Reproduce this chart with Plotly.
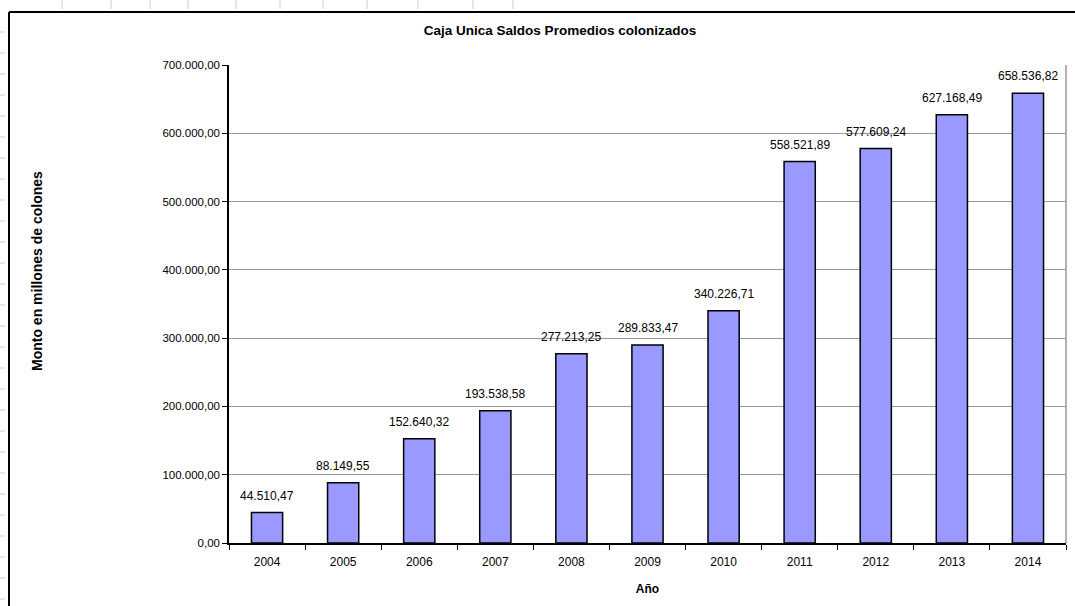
import plotly.graph_objects as go

years = ["2004", "2005", "2006", "2007", "2008", "2009", "2010", "2011", "2012", "2013", "2014"]
saldos = [44510.47, 88149.55, 152640.32, 193538.58, 277213.25, 289833.47, 340226.71,
          558521.89, 577609.24, 627168.49, 658536.82]
y_ticks = [0, 100000, 200000, 300000, 400000, 500000, 600000, 700000]

W, H = 1075, 606
L, R, T, B = 229, 9, 65, 63
pw, ph = W - L - R, H - T - B

def px(x):
    return (x - L) / pw

def py(y):
    return (H - B - y) / ph

def es_fmt(v):
    return f"{v:,.2f}".replace(",", "X").replace(".", ",").replace("X", ".")

FONT = "Liberation Sans, Arial"

fig = go.Figure(go.Bar(
    x=years, y=saldos,
    marker=dict(color="#9999FF", line=dict(color="black", width=1.5)),
    width=0.41,
    hoverinfo="skip",
))

shapes = []
# outer chart frame (top and left edges)
shapes.append(dict(type="line", xref="paper", yref="paper", x0=px(9), x1=px(1080), y0=py(12), y1=py(12),
                   line=dict(color="black", width=2)))
shapes.append(dict(type="line", xref="paper", yref="paper", x0=px(9), x1=px(9), y0=py(12), y1=py(610),
                   line=dict(color="black", width=2)))
# faint spreadsheet marks
for xx in [62, 111, 150, 188, 236, 280, 323, 367, 418, 473, 513]:
    shapes.append(dict(type="line", xref="paper", yref="paper", x0=px(xx), x1=px(xx), y0=py(0), y1=py(9),
                       line=dict(color="#c8d0dc", width=1)))
yy = 32
while yy < 606:
    shapes.append(dict(type="line", xref="paper", yref="paper", x0=px(0), x1=px(5), y0=py(yy), y1=py(yy),
                       line=dict(color="#c8d0dc", width=1)))
    yy += 21
# right border of plot area in gray
shapes.append(dict(type="line", xref="paper", yref="paper", x0=1, x1=1, y0=0, y1=1,
                   line=dict(color="#999999", width=1.5)))

annotations = [dict(text="<b>Monto en millones de colones</b>", xref="paper", yref="paper",
                    x=px(37), y=py(271), textangle=-90, showarrow=False,
                    font=dict(family=FONT, size=14, color="black"),
                    xanchor="center", yanchor="middle")]
for i, v in enumerate(saldos):
    annotations.append(dict(x=i, y=v, xref="x", yref="y", text=es_fmt(v), showarrow=False,
                            xanchor="center", yanchor="bottom", yshift=8,
                            font=dict(family=FONT, size=12, color="black")))

fig.update_layout(
    width=W, height=H,
    margin=dict(l=L, r=R, t=T, b=B, pad=0),
    paper_bgcolor="white", plot_bgcolor="white",
    separators=",.",
    showlegend=False,
    title=dict(text="<b>Caja Unica Saldos Promedios colonizados</b>", x=560 / W, xanchor="center",
               y=1 - 30 / H, yanchor="middle",
               font=dict(family=FONT, size=13.5, color="black")),
    xaxis=dict(
        type="category", categoryorder="array", categoryarray=years,
        range=[-0.5, len(years) - 0.5],
        showline=True, linecolor="black", linewidth=1.5,
        ticks="outside", tickson="boundaries", ticklen=5, tickcolor="black",
        tickfont=dict(family=FONT, size=12, color="black"),
        ticklabelstandoff=7, tickangle=0,
        title=dict(text="<b>Año</b>", font=dict(family=FONT, size=12, color="black"), standoff=16),
        showgrid=False,
    ),
    yaxis=dict(
        range=[0, 700000], tickvals=y_ticks, tickformat=",.2f",
        showline=True, linecolor="black", linewidth=1.5,
        ticks="outside", ticklen=5, tickcolor="black",
        tickfont=dict(family=FONT, size=11.5, color="black"),
        showgrid=True, gridcolor="#999999", gridwidth=1,
        zeroline=False,
    ),
    shapes=shapes,
    annotations=annotations,
)

fig.write_html("out.html", config={"displayModeBar": False},
               post_script="document.body.style.margin='0';document.body.style.overflow='hidden';")
